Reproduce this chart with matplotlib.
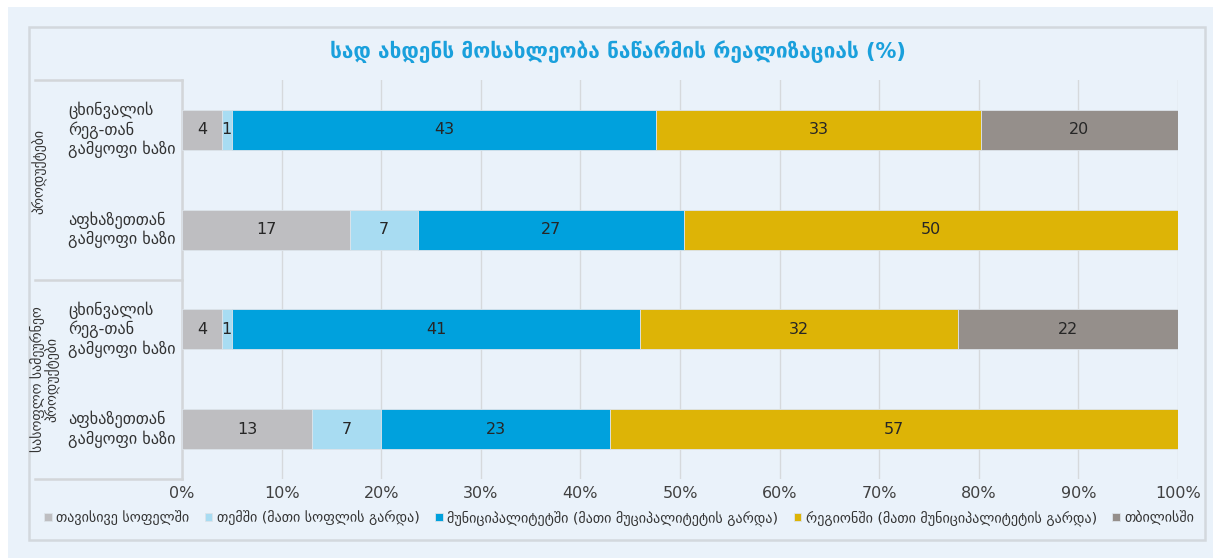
import numpy as np
import matplotlib
matplotlib.use("Agg")
import matplotlib.pyplot as plt
from matplotlib.patches import Rectangle
from matplotlib.lines import Line2D
import matplotlib.transforms as mtransforms

plt.rcParams['font.family'] = ['DejaVu Sans']

# data (percent)
rows = ["ცხინვალის\nრეგ-თან\nგამყოფი ხაზი", "აფხაზეთთან\nგამყოფი ხაზი",
        "ცხინვალის\nრეგ-თან\nგამყოფი ხაზი", "აფხაზეთთან\nგამყოფი ხაზი"]
groups = ["პროდუქტები", "სასოფლო სამეურნეო\nპროდუქტები"]
series = ["თავისივე სოფელში", "თემში (მათი სოფლის გარდა)",
          "მუნიციპალიტეტში (მათი მუციპალიტეტის გარდა)",
          "რეგიონში (მათი მუნიციპალიტეტის გარდა)", "თბილისში"]
own_village = [4.0, 16.9, 4.0, 13.1]
community = [1.0, 6.8, 1.0, 6.9]
municipality = [42.6, 26.7, 41.0, 23.0]
region = [32.6, 49.6, 31.9, 57.0]
tbilisi = [19.8, 0.0, 22.1, 0.0]
xticks = [0, 10, 20, 30, 40, 50, 60, 70, 80, 90, 100]
title = "სად ახდენს მოსახლეობა ნაწარმის რეალიზაციას (%)"

colors = ["#BEBEC1", "#A8DCF2", "#00A1DD", "#DDB406", "#958F8B"]
bg = "#EAF2FA"
W, H = 1213, 558

fig = plt.figure(figsize=(W / 100, H / 100), dpi=100, facecolor="white")
fig.add_artist(Rectangle((8 / W, 0), 1, 1 - 7 / H, transform=fig.transFigure,
                         facecolor=bg, edgecolor="none", zorder=-10))
# chart border
fig.add_artist(Rectangle((29 / W, 1 - 540 / H), (1205 - 29) / W, (540 - 27) / H,
                         transform=fig.transFigure, facecolor="none",
                         edgecolor="#D3D8DD", linewidth=1.8, zorder=-5))

ax = fig.add_axes([182 / W, 1 - 479 / H, (1178 - 182) / W, (479 - 80) / H])
ax.set_facecolor(bg)

y = np.arange(len(rows))
left = np.zeros(len(rows))
for name, vals, c in zip(series, [own_village, community, municipality, region, tbilisi], colors):
    vals = np.array(vals)
    bars = ax.barh(y, vals, left=left, height=0.4, color=c, edgecolor="#DCE3EA",
                   linewidth=0.6, label=name, zorder=3)
    labels = [f"{v:.0f}" if v > 0 else "" for v in vals]
    ax.bar_label(bars, labels=labels, label_type="center", fontsize=11.5, color="#262626")
    left += vals

ax.set_xlim(0, 100)
ax.set_ylim(len(rows) - 0.5, -0.5)
ax.set_xticks(xticks)
ax.set_xticklabels([f"{t}%" for t in xticks], fontsize=11.5, color="#404040")
ax.set_yticks([])
ax.tick_params(axis="x", length=0, pad=5)
ax.grid(axis="x", color="#D6D9DC", linewidth=1.0, zorder=0)
for s in ["top", "right", "bottom"]:
    ax.spines[s].set_visible(False)
ax.spines["left"].set_color("#D3D6D9")
ax.spines["left"].set_linewidth(1.8)

# category table on the left
trans = mtransforms.blended_transform_factory(ax.transAxes, ax.transData)
x0 = (35 - 182) / (1178 - 182)
for yb in [-0.5, 1.5, 3.5]:
    ax.add_line(Line2D([x0, 0], [yb, yb], transform=trans, color="#D3D6D9",
                       linewidth=1.8, clip_on=False))
for i, r in enumerate(rows):
    ax.text((68 - 182) / (1178 - 182), i, r, transform=trans, ha="left", va="center",
            fontsize=11.7, color="#333333", linespacing=1.15)
for g, yc, xg in zip(groups, [0.42, 2.5], [40, 45]):
    ax.text((xg - 182) / (1178 - 182), yc, g, transform=trans, ha="center", va="center",
            rotation=90, fontsize=10.0, color="#333333", multialignment="center",
            linespacing=0.95)

fig.text(618 / W, 1 - 52 / H, title, ha="center", va="center", fontsize=15,
         fontweight="bold", color="#1AA0DC")

handles, labs = ax.get_legend_handles_labels()
fig.legend(handles, labs, loc="center", bbox_to_anchor=(619 / W, 1 - 518 / H), ncol=5,
           frameon=False, fontsize=10.2, handlelength=0.55, handleheight=0.55,
           handletextpad=0.3, columnspacing=1.1, labelcolor="#333333")

fig.savefig("out.png", dpi=100, facecolor="white")
